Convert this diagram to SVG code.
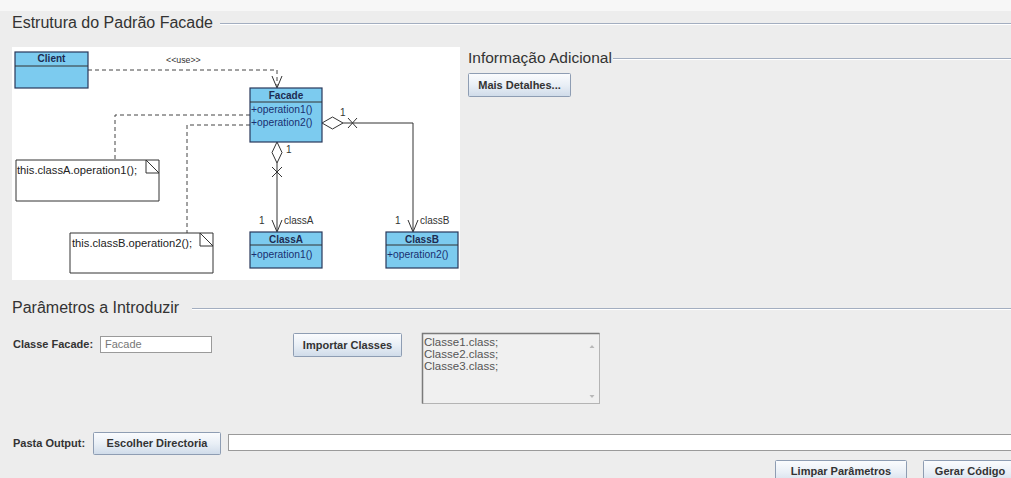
<svg xmlns="http://www.w3.org/2000/svg" width="1011" height="478" viewBox="0 0 1011 478">
  <defs>
    <linearGradient id="btnGrad" x1="0" y1="0" x2="0" y2="1">
      <stop offset="0" stop-color="#fbfcfe"/>
      <stop offset="0.5" stop-color="#e9eff6"/>
      <stop offset="1" stop-color="#cfdbe9"/>
    </linearGradient>
    <style>
      .title { font-family: "Liberation Sans", Arial, sans-serif; font-size: 16px; fill: #333333; }
      .sep { stroke: #a3aec0; stroke-width: 1; }
      .sepLight { stroke: #ffffff; stroke-width: 1; }
      .lbl { font-family: "Liberation Sans", Arial, sans-serif; font-size: 11px; font-weight: bold; fill: #333333; }
      .btn rect { fill: url(#btnGrad); stroke: #8e9db3; stroke-width: 1; }
      .btn text { font-family: "Liberation Sans", Arial, sans-serif; font-size: 11px; font-weight: bold; fill: #333333; text-anchor: middle; }
      .field { fill: #ffffff; stroke: #9a9a9a; stroke-width: 1; }
      .cls { fill: #7ccbef; stroke: #28385a; stroke-width: 1.2; }
      .clsName { font-family: "Liberation Sans", Arial, sans-serif; font-size: 10px; font-weight: bold; fill: #1d2b52; text-anchor: middle; }
      .op { font-family: "Liberation Sans", Arial, sans-serif; font-size: 10.3px; fill: #1a2f70; }
      .note { fill: #ffffff; stroke: #333333; stroke-width: 1; }
      .noteText { font-family: "Liberation Sans", Arial, sans-serif; font-size: 11.2px; fill: #222222; }
      .umlLbl { font-family: "Liberation Sans", Arial, sans-serif; font-size: 10px; fill: #333333; }
      .dash { fill: none; stroke: #444444; stroke-width: 1; stroke-dasharray: 4 3; }
      .solid { fill: none; stroke: #333333; stroke-width: 1; }
      .listText { font-family: "Liberation Sans", Arial, sans-serif; font-size: 11.5px; fill: #555555; }
    </style>
  </defs>

  <!-- window background -->
  <rect x="0" y="0" width="1011" height="478" fill="#ededed"/>
  <rect x="0" y="0" width="1011" height="11" fill="#f7f7f7"/>

  <!-- section: structure -->
  <g id="section-structure">
    <text class="title" x="12" y="28">Estrutura do Padrão Facade</text>
    <line class="sep" x1="220" y1="23.5" x2="1011" y2="23.5"/>
    <line class="sepLight" x1="220" y1="24.5" x2="1011" y2="24.5"/>
    <rect x="12" y="47" width="448" height="233" fill="#ffffff"/>
  </g>

  <!-- connectors of the class diagram -->
  <g id="connectors">
    <!-- Client uses Facade -->
    <path class="dash" d="M88,70 H277 V87"/>
    <path class="solid" d="M272,76 L277,88 L282,76"/>
    <text class="umlLbl" x="166" y="63" style="font-size:8.8px">&lt;&lt;use&gt;&gt;</text>
    <!-- note anchors -->
    <path class="dash" d="M250,115 H115 V160"/>
    <path class="dash" d="M250,125 H187 V233"/>
    <!-- Facade to ClassB -->
    <polygon class="solid" fill="#ffffff" points="322,123 332.5,117 343,123 332.5,129"/>
    <path class="solid" d="M348,118 L357,128 M348,128 L357,118"/>
    <path class="solid" d="M343,123 H413 V231"/>
    <path class="solid" d="M408,220 L413,232 L418,220"/>
    <text class="umlLbl" x="340" y="116">1</text>
    <text class="umlLbl" x="395" y="224">1</text>
    <text class="umlLbl" x="420" y="224">classB</text>
    <!-- Facade to ClassA -->
    <polygon class="solid" fill="#ffffff" points="277,142 282,152.5 277,163 272,152.5"/>
    <path class="solid" d="M272,167 L282,177 M272,177 L282,167"/>
    <path class="solid" d="M277,163 V231"/>
    <path class="solid" d="M272,220 L277,232 L282,220"/>
    <text class="umlLbl" x="286" y="153">1</text>
    <text class="umlLbl" x="259" y="224">1</text>
    <text class="umlLbl" x="284" y="224">classA</text>
  </g>

  <!-- classes -->
  <g id="client">
    <rect class="cls" x="15" y="52" width="73" height="36"/>
    <line class="solid" x1="15" y1="66" x2="88" y2="66" stroke="#28385a"/>
    <text class="clsName" x="51.5" y="62">Client</text>
  </g>
  <g id="facade">
    <rect class="cls" x="250" y="88" width="72" height="54"/>
    <line class="solid" x1="250" y1="102" x2="322" y2="102" stroke="#28385a"/>
    <text class="clsName" x="286" y="98.5">Facade</text>
    <text class="op" x="251" y="113">+operation1()</text>
    <text class="op" x="251" y="126">+operation2()</text>
  </g>
  <g id="classA">
    <rect class="cls" x="250" y="232" width="72" height="36"/>
    <line class="solid" x1="250" y1="245" x2="322" y2="245" stroke="#28385a"/>
    <text class="clsName" x="286" y="242.5">ClassA</text>
    <text class="op" x="251" y="258">+operation1()</text>
  </g>
  <g id="classB">
    <rect class="cls" x="386" y="232" width="72" height="36"/>
    <line class="solid" x1="386" y1="245" x2="458" y2="245" stroke="#28385a"/>
    <text class="clsName" x="422" y="242.5">ClassB</text>
    <text class="op" x="387" y="258">+operation2()</text>
  </g>

  <!-- notes -->
  <g id="noteA">
    <path class="note" d="M16,160 H159 V201 H16 Z"/>
    <path class="solid" d="M146,160 L159,173 H146 Z" fill="#ffffff"/>
    <text class="noteText" x="17" y="174">this.classA.operation1();</text>
  </g>
  <g id="noteB">
    <path class="note" d="M70,233 H213 V273 H70 Z"/>
    <path class="solid" d="M200,233 L213,246 H200 Z" fill="#ffffff"/>
    <text class="noteText" x="72" y="247">this.classB.operation2();</text>
  </g>

  <!-- section: additional info -->
  <g id="section-info">
    <text class="title" x="468" y="63" style="font-size:15.5px">Informação Adicional</text>
    <line class="sep" x1="613" y1="58.5" x2="1011" y2="58.5"/>
    <line class="sepLight" x1="613" y1="59.5" x2="1011" y2="59.5"/>
  </g>
  <g id="btn-details" class="btn">
    <rect x="468.5" y="73.5" width="102" height="23" rx="1"/>
    <text x="519.5" y="89">Mais Detalhes...</text>
  </g>

  <!-- section: parameters -->
  <g id="section-params">
    <text class="title" x="12" y="313">Parâmetros a Introduzir</text>
    <line class="sep" x1="192" y1="308.5" x2="1011" y2="308.5"/>
    <line class="sepLight" x1="192" y1="309.5" x2="1011" y2="309.5"/>
  </g>
  <g id="facade-field">
    <text class="lbl" x="13" y="348">Classe Facade:</text>
    <rect class="field" x="100.5" y="336.5" width="111" height="16"/>
    <text x="105" y="348" style="font-family:'Liberation Sans', Arial, sans-serif; font-size:11px; fill:#777777">Facade</text>
  </g>
  <g id="btn-import" class="btn">
    <rect x="293.5" y="333.5" width="108" height="23" rx="1"/>
    <text x="347.5" y="349">Importar Classes</text>
  </g>
  <g id="class-list">
    <rect x="422.5" y="333.5" width="177" height="70" fill="#f0f0f0" stroke="#b4b4b4"/>
    <path d="M422.5,403.5 V333.5 H599.5" fill="none" stroke="#7a7a7a" stroke-width="1.5"/>
    <text class="listText" x="424" y="346">Classe1.class;</text>
    <text class="listText" x="424" y="358">Classe2.class;</text>
    <text class="listText" x="424" y="370">Classe3.class;</text>
    <polygon points="589.5,348 592,345 594.5,348" fill="#b8b8b8"/>
    <polygon points="589.5,395 592,398 594.5,395" fill="#b8b8b8"/>
  </g>
  <g id="output-field">
    <text class="lbl" x="13" y="447">Pasta Output:</text>
    <rect x="228.5" y="434.5" width="790" height="16" fill="#ffffff" stroke="#9a9a9a"/>
  </g>
  <g id="btn-directory" class="btn">
    <rect x="93.5" y="432.5" width="127" height="22" rx="1"/>
    <text x="157" y="447">Escolher Directoria</text>
  </g>
  <g id="btn-clear" class="btn">
    <rect x="775.5" y="460.5" width="131" height="24" rx="1"/>
    <text x="841" y="475">Limpar Parâmetros</text>
  </g>
  <g id="btn-generate" class="btn">
    <rect x="923.5" y="460.5" width="100" height="24" rx="1"/>
    <text x="970" y="475">Gerar Código</text>
  </g>
</svg>
